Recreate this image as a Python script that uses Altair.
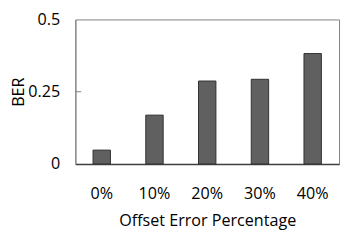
import altair as alt
import pandas as pd

categories = ["0%", "10%", "20%", "30%", "40%"]
ber = [0.048, 0.169, 0.287, 0.293, 0.382]
y_ticks = [0, 0.25, 0.5]
inner_ticks = [0.25]

df = pd.DataFrame({"cat": categories, "ber": ber})
tick_df = pd.DataFrame({"t": inner_ticks})

FONT = "Open Sans"
FS = 16.5

y_scale = alt.Scale(domain=[0, 0.5], nice=False, zero=True)

bars = alt.Chart(df).mark_bar(
    fill="#606060", stroke="#303030", strokeWidth=1
).encode(
    x=alt.X("cat:N", sort=categories,
            scale=alt.Scale(paddingInner=0.67, paddingOuter=0.335),
            axis=alt.Axis(title="Offset Error Percentage", labelAngle=0,
                          ticks=False, labelPadding=22, titlePadding=11,
                          domainColor="#404040", domainWidth=1.5,
                          labelFont=FONT, labelFontSize=FS, labelColor="black",
                          titleFont=FONT, titleFontSize=FS, titleFontWeight="normal",
                          titleColor="black")),
    y=alt.Y("ber:Q", scale=y_scale,
            axis=alt.Axis(title="BER", values=y_ticks, ticks=False, grid=False,
                          labelPadding=16, titleX=-50, titleBaseline="bottom",
                          domainColor="#808080",
                          labelFont=FONT, labelFontSize=FS, labelColor="black",
                          labelExpr="datum.value == 0 ? '0' : format(datum.value, '.2~f')",
                          titleFont=FONT, titleFontSize=FS, titleFontWeight="normal",
                          titleColor="black")),
)

ticks = alt.Chart(tick_df).mark_rule(color="#808080", strokeWidth=1).encode(
    y=alt.Y("t:Q", scale=y_scale),
    x=alt.value(0),
    x2=alt.value(6),
)

chart = alt.layer(bars, ticks).properties(
    width=270, height=148,
    autosize=alt.AutoSizeParams(type="none"),
    padding={"left": 69, "top": 9, "right": 2, "bottom": 70},
).configure_view(stroke="#808080", strokeWidth=1)

chart.save("out.html", embed_options={"renderer": "svg", "actions": False})
